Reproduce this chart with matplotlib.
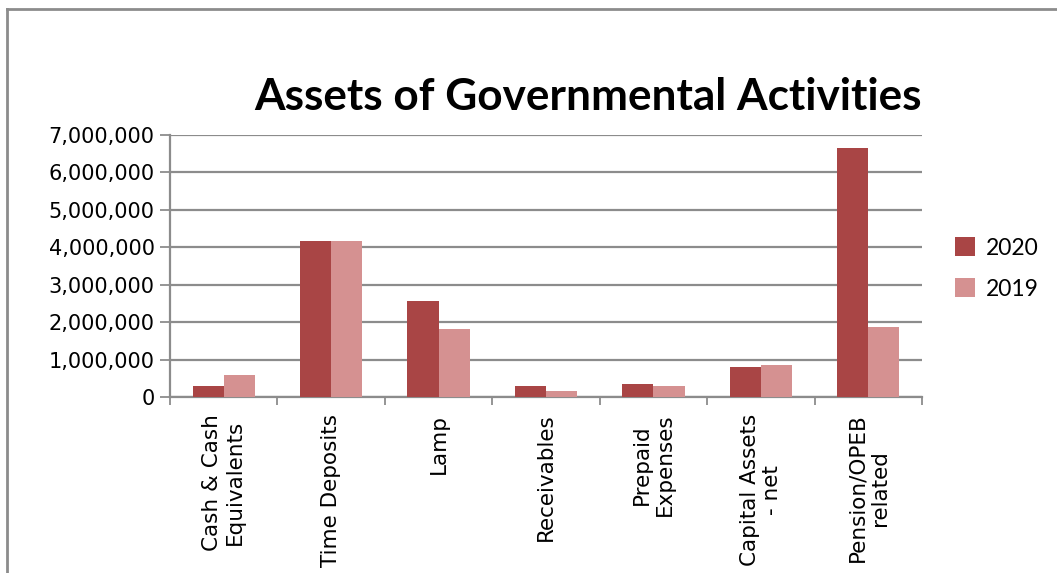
import matplotlib
matplotlib.use("Agg")
import matplotlib.pyplot as plt
import numpy as np
from matplotlib.lines import Line2D
from matplotlib.ticker import FuncFormatter, MultipleLocator

# values
categories = ['Cash & Cash\nEquivalents', 'Time Deposits', 'Lamp', 'Receivables',
              'Prepaid\nExpenses', 'Capital Assets\n- net', 'Pension/OPEB\nrelated']
values_2020 = [280000, 4180000, 2570000, 280000, 340000, 800000, 6640000]
values_2019 = [590000, 4180000, 1820000, 160000, 280000, 860000, 1880000]

color_2020 = '#A94545'
color_2019 = '#D59191'
grid_color = '#8C8C8C'

fig = plt.figure(figsize=(10.57, 5.73), dpi=100)
ax = fig.add_axes([0.1608, 0.3072, 0.7115, 0.4572])

x = np.arange(len(categories))
w = 0.29
ax.bar(x - w / 2, values_2020, width=w, color=color_2020, label='2020', zorder=3)
ax.bar(x + w / 2, values_2019, width=w, color=color_2019, label='2019', zorder=3)

ax.set_xlim(-0.5, len(categories) - 0.5)
ax.set_ylim(0, 7000000)
ax.yaxis.set_major_locator(MultipleLocator(1000000))
ax.yaxis.set_major_formatter(FuncFormatter(lambda v, p: f'{int(v):,}'))
ax.grid(axis='y', color=grid_color, linewidth=1.6, zorder=0)

# category labels, tick marks between categories
ax.set_xticks(x)
ax.set_xticklabels(categories, rotation=90, fontsize=15.5, family='DejaVu Sans',
                   ha='center', va='top', linespacing=1.15)
ax.tick_params(axis='x', length=0, pad=12)
ax.set_xticks(np.arange(len(categories) + 1) - 0.5, minor=True)
ax.tick_params(axis='x', which='minor', length=6, color=grid_color, width=1.3)
ax.tick_params(axis='y', length=7, color=grid_color, width=1.3, labelsize=15, pad=4)
for lbl in ax.get_yticklabels():
    lbl.set_family('DejaVu Sans')

for side in ['top', 'right']:
    ax.spines[side].set_visible(False)
for side in ['left', 'bottom']:
    ax.spines[side].set_color(grid_color)
    ax.spines[side].set_linewidth(1.6)

fig.text(0.556, 0.83, 'Assets of Governmental Activities', ha='center', va='center',
         fontsize=31.8, fontweight='bold', family='Lato')

ax.legend(loc='center left', bbox_to_anchor=(1.016, 0.49), frameon=False,
          handlelength=0.9, handleheight=0.9, handletextpad=0.45, labelspacing=0.85,
          prop={'family': 'Lato', 'size': 16.5})

# outer chart frame (only top and left edges visible in the crop)
fig.add_artist(Line2D([0.007, 1.0], [0.985, 0.985], color='#8C8C8C', linewidth=2,
                      transform=fig.transFigure))
fig.add_artist(Line2D([0.007, 0.007], [0.0, 0.985], color='#8C8C8C', linewidth=2,
                      transform=fig.transFigure))

fig.savefig('out.png', dpi=100, facecolor='white')
